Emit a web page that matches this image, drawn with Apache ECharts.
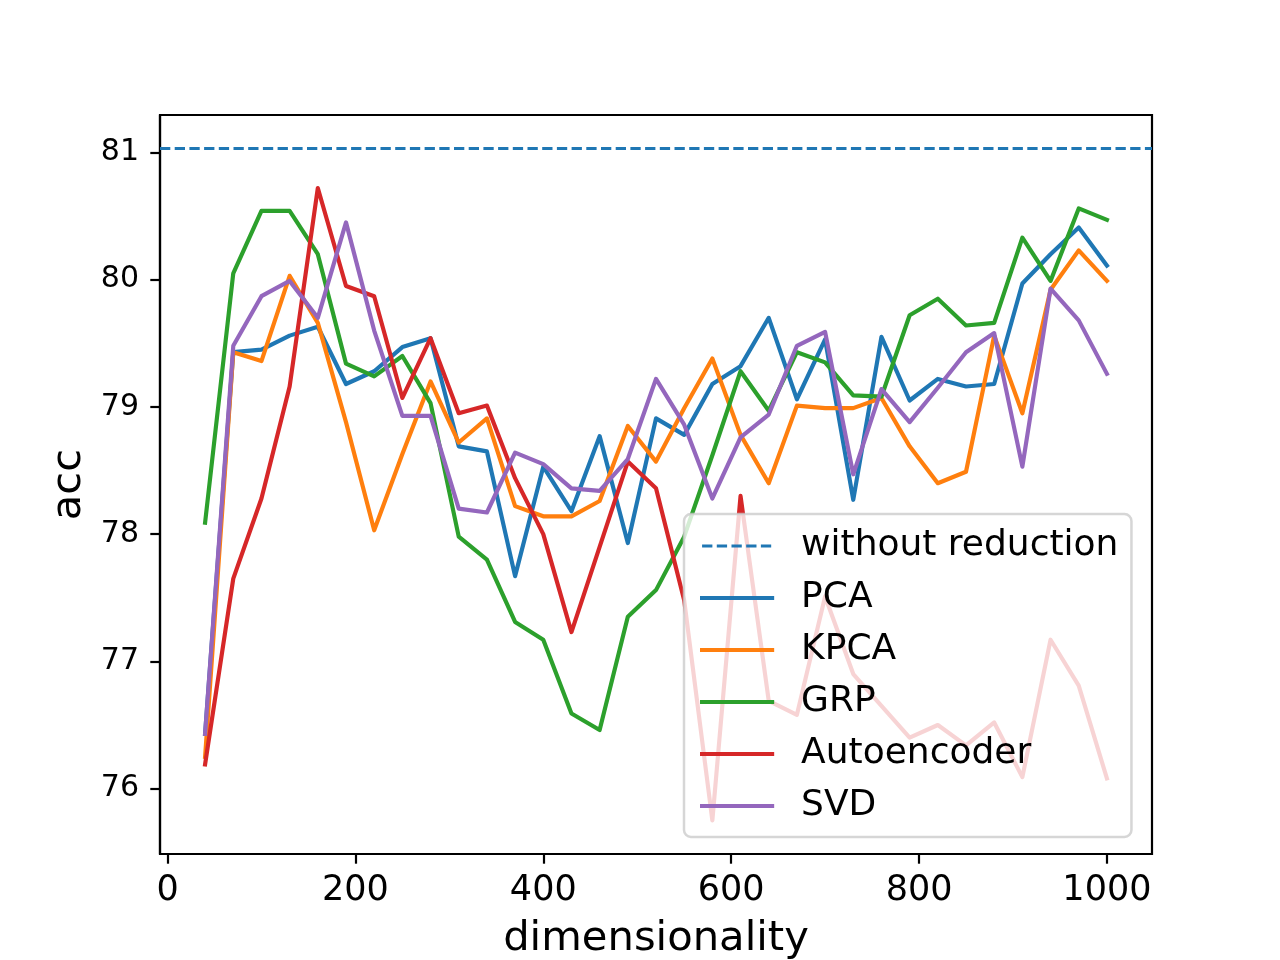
<!DOCTYPE html>
<html><head><meta charset="utf-8">
<script src="https://cdn.jsdelivr.net/npm/echarts@6/dist/echarts.min.js"></script>
<style>html,body{margin:0;padding:0;background:#fff}#c{width:1280px;height:960px}</style>
</head><body><div id="c"></div>
<script>
// ---- data ----
const dims = [40, 70, 100, 130, 160, 190, 220, 250, 280, 310, 340, 370, 400, 430, 460, 490, 520, 550, 580, 610, 640, 670, 700, 730, 760, 790, 820, 850, 880, 910, 940, 970, 1000];
const baseline = 81.03;
const pca = [76.43, 79.43, 79.45, 79.56, 79.63, 79.18, 79.28, 79.47, 79.54, 78.69, 78.65, 77.67, 78.53, 78.18, 78.77, 77.93, 78.91, 78.78, 79.18, 79.32, 79.70, 79.06, 79.53, 78.27, 79.55, 79.05, 79.22, 79.16, 79.18, 79.97, 80.20, 80.41, 80.11];
const kpca = [76.25, 79.43, 79.36, 80.03, 79.66, 78.88, 78.03, 78.63, 79.20, 78.72, 78.91, 78.22, 78.14, 78.14, 78.26, 78.85, 78.57, 78.99, 79.38, 78.78, 78.40, 79.01, 78.99, 78.99, 79.07, 78.69, 78.40, 78.49, 79.56, 78.95, 79.92, 80.23, 79.99];
const grp = [78.09, 80.05, 80.54, 80.54, 80.20, 79.34, 79.24, 79.40, 79.03, 77.98, 77.80, 77.31, 77.17, 76.59, 76.46, 77.35, 77.56, 77.98, 78.62, 79.28, 78.97, 79.43, 79.35, 79.09, 79.08, 79.72, 79.85, 79.64, 79.66, 80.33, 79.99, 80.56, 80.47];
const autoencoder = [76.19, 77.65, 78.28, 79.16, 80.72, 79.95, 79.87, 79.07, 79.54, 78.95, 79.01, 78.44, 78.00, 77.23, 77.90, 78.57, 78.36, 77.48, 75.75, 78.30, 76.69, 76.58, 77.51, 76.90, 76.65, 76.40, 76.50, 76.34, 76.52, 76.09, 77.17, 76.81, 76.08];
const svd = [76.43, 79.48, 79.87, 79.99, 79.70, 80.45, 79.60, 78.93, 78.93, 78.20, 78.17, 78.64, 78.55, 78.36, 78.34, 78.59, 79.22, 78.86, 78.28, 78.76, 78.94, 79.48, 79.59, 78.47, 79.14, 78.88, 79.15, 79.43, 79.58, 78.53, 79.93, 79.68, 79.26];
const xTicks = [0, 200, 400, 600, 800, 1000];
const yTicks = [76, 77, 78, 79, 80, 81];

// ---- chart ----
const F = 'DejaVu Sans';
const chart = echarts.init(document.getElementById('c'), null, {renderer: 'canvas'});
function pts(arr) { return dims.map((d, i) => [d, arr[i]]); }
const LW = 4.17;
function lineSeries(name, color, arr) {
  return {
    name: name, type: 'line', data: pts(arr), symbol: 'none', showSymbol: false,
    color: color, itemStyle: {color: color},
    lineStyle: {color: color, width: LW, join: 'round', cap: 'square'},
    silent: true, animation: false, clip: true
  };
}
const option = {
  animation: false,
  backgroundColor: '#fff',
  grid: {left: 160, top: 115, right: 128, bottom: 106, show: true, borderColor: '#000', borderWidth: 2.2,
         backgroundColor: 'transparent', containLabel: false, outerBoundsMode: 'none'},
  xAxis: {
    type: 'value', min: -8, max: 1048,
    name: 'dimensionality', nameLocation: 'middle', nameGap: 64,
    nameTextStyle: {fontFamily: F, fontSize: 41.7, color: '#000'},
    axisLine: {show: true, onZero: false, lineStyle: {color: '#000', width: 2.2}},
    splitLine: {show: false},
    axisTick: {show: true, inside: false, length: 9.7, lineStyle: {color: '#000', width: 2.2}, customValues: xTicks},
    axisLabel: {customValues: xTicks, fontFamily: F, fontSize: 35, color: '#000', margin: 19,
                formatter: function (v) { return String(v); }}
  },
  yAxis: {
    type: 'value', min: 75.486, max: 81.294,
    name: 'acc', nameLocation: 'middle', nameGap: 65, nameRotate: 90,
    nameTextStyle: {fontFamily: F, fontSize: 41.7, color: '#000'},
    axisLine: {show: true, onZero: false, lineStyle: {color: '#000', width: 2.2}},
    splitLine: {show: false},
    axisTick: {show: true, inside: false, length: 9.7, lineStyle: {color: '#000', width: 2.2}, customValues: yTicks},
    axisLabel: {customValues: yTicks, fontFamily: F, fontSize: 30, color: '#000', margin: 21,
                formatter: function (v) { return String(v); }}
  },
  legend: {
    orient: 'vertical', left: 684, top: 514,
    padding: [14, 13, 13, 16],
    itemWidth: 70, itemHeight: 36, itemGap: 16,
    backgroundColor: 'rgba(255,255,255,0.8)',
    borderColor: 'rgba(204,204,204,0.8)', borderWidth: 2.5, borderRadius: 7,
    textStyle: {fontFamily: F, fontSize: 36, color: '#000', lineHeight: 36, padding: [0, 0, 0, 24]},
    lineStyle: {width: 'inherit', type: 'inherit'},
    itemStyle: {opacity: 0, borderWidth: 0},
    selectedMode: false,
    data: ['without reduction', 'PCA', 'KPCA', 'GRP', 'Autoencoder', 'SVD']
  },
  series: [
    {
      name: 'without reduction', type: 'line', data: [], symbol: 'none', showSymbol: false,
      color: '#1f77b4', itemStyle: {color: '#1f77b4'},
      lineStyle: {color: '#1f77b4', width: 2.78, type: [10.3, 4.4]},
      silent: true, animation: false,
      markLine: {
        silent: true, animation: false, symbol: ['none', 'none'], label: {show: false},
        lineStyle: {color: '#1f77b4', width: 2.78, type: [10.3, 4.4]},
        emphasis: {disabled: true},
        data: [{yAxis: baseline}]
      }
    },
    lineSeries('PCA', '#1f77b4', pca),
    lineSeries('KPCA', '#ff7f0e', kpca),
    lineSeries('GRP', '#2ca02c', grp),
    lineSeries('Autoencoder', '#d62728', autoencoder),
    lineSeries('SVD', '#9467bd', svd)
  ]
};
chart.setOption(option);
</script>
</body></html>
